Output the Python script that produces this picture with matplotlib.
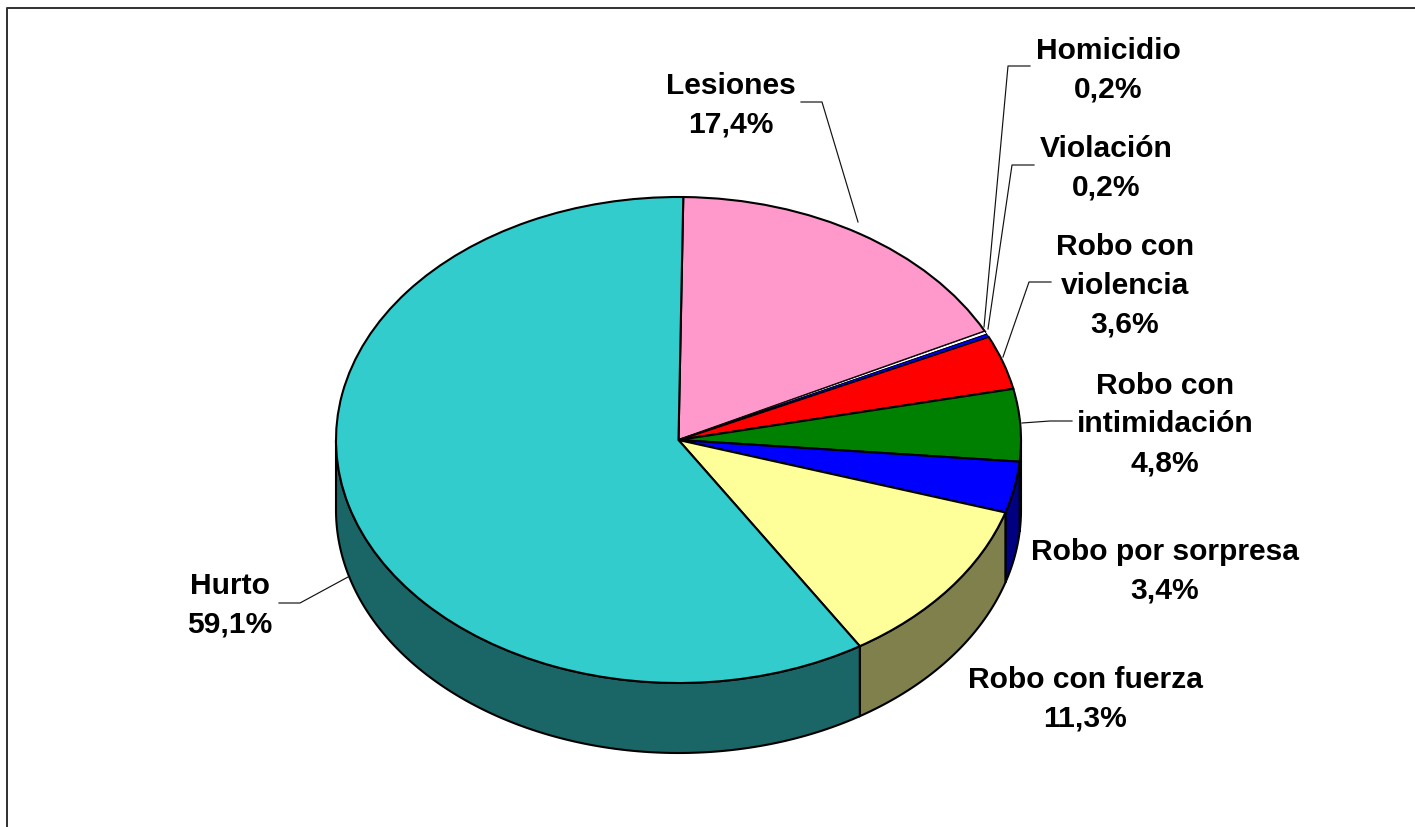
import numpy as np
import matplotlib
matplotlib.use('Agg')
import matplotlib.pyplot as plt

# slices, clockwise from the top
names = ['Lesiones', 'Homicidio', 'Violación', 'Robo con\nviolencia', 'Robo con\nintimidación',
         'Robo por sorpresa', 'Robo con fuerza', 'Hurto']
values = [17.4, 0.2, 0.2, 3.6, 4.8, 3.4, 11.3, 59.1]
colors = ['#FF99CC', '#FFFFFF', '#0000FF', '#FF0000', '#008000', '#0000FF', '#FFFF99', '#33CCCC']

# layout in picture pixels
W, H = 1415, 828
cx, cy = 678.5, 441  # pie centre
rx, ry = 342.5, 243  # ellipse radii
depth = 70
start = 0.8  # degrees clockwise from top

label_pos = [(731, 105.5), (1108, 70), (1106, 168), (1125, 285.5), (1165, 424.5),
             (1165, 571.5), (1085, 699.5), (230, 605.5)]
leaders = [[(801, 103), (822, 103), (858, 223)],
           [(1030, 67), (1008, 67), (984, 328)],
           [(1034, 166), (1012, 166), (988, 330)],
           [(1051, 283), (1029, 283), (1003, 358)],
           [(1072, 422), (1050, 422), (1022, 424)],
           [(279, 604), (300, 604), (348, 578)]]


def px(x, y):
    # picture pixels to pie units
    return (x - cx) / rx, (cy - y) / ry


fig = plt.figure(figsize=(W / 100, H / 100), dpi=100, facecolor='white')
ax = fig.add_axes([0, 0, 1, 1])

# top of the pie, stretched to an ellipse by the non equal axes
wedges, _ = ax.pie(values, colors=colors, radius=1, startangle=90 - start, counterclock=False,
                   wedgeprops={'edgecolor': 'black', 'linewidth': 1.5, 'zorder': 3})
# the two tiny slices vanish under a thick outline
for w, v in zip(wedges, values):
    if v < 1:
        w.set_linewidth(0.6)
        w.set_zorder(3.5)
ax.set_aspect('auto')
ax.set_xlim(px(0, 0)[0], px(W, 0)[0])
ax.set_ylim(px(0, H)[1], px(0, 0)[1])

# side wall, only the part of each slice facing the viewer (90 to 270 deg)
edges = start + np.cumsum([0] + values) * 3.6
d = depth / ry
for i in range(len(values)):
    a0 = max(edges[i], 90)
    a1 = min(edges[i + 1], 270)
    if a1 <= a0:
        continue
    t = np.radians(np.linspace(a0, a1, 200))
    xs = np.sin(t)
    ys = np.cos(t)
    shade = np.array(matplotlib.colors.to_rgb(colors[i])) * 0.5
    ax.fill(np.r_[xs, xs[::-1]], np.r_[ys, ys[::-1] - d], facecolor=shade,
            edgecolor='black', linewidth=1.5, zorder=2)

# leader lines
for line in leaders:
    p = np.array([px(x, y) for x, y in line])
    ax.plot(p[:, 0], p[:, 1], color='#111111', linewidth=0.85, zorder=4)

# labels
for name, v, pos in zip(names, values, label_pos):
    txt = name + '\n' + f'{v:.1f}'.replace('.', ',') + '%'
    x, y = px(*pos)
    ax.text(x, y, txt, ha='center', va='center', multialignment='center', fontsize=21.6,
            family='Liberation Sans', weight='bold', color='black', linespacing=1.48, zorder=5)

# chart border, only top and left fall inside the picture
border = np.array([px(7, H), px(7, 9), px(W, 9)])
ax.plot(border[:, 0], border[:, 1], color='#303030', linewidth=1.4, clip_on=False, zorder=1)

fig.savefig('out.png', dpi=100, facecolor='white')
